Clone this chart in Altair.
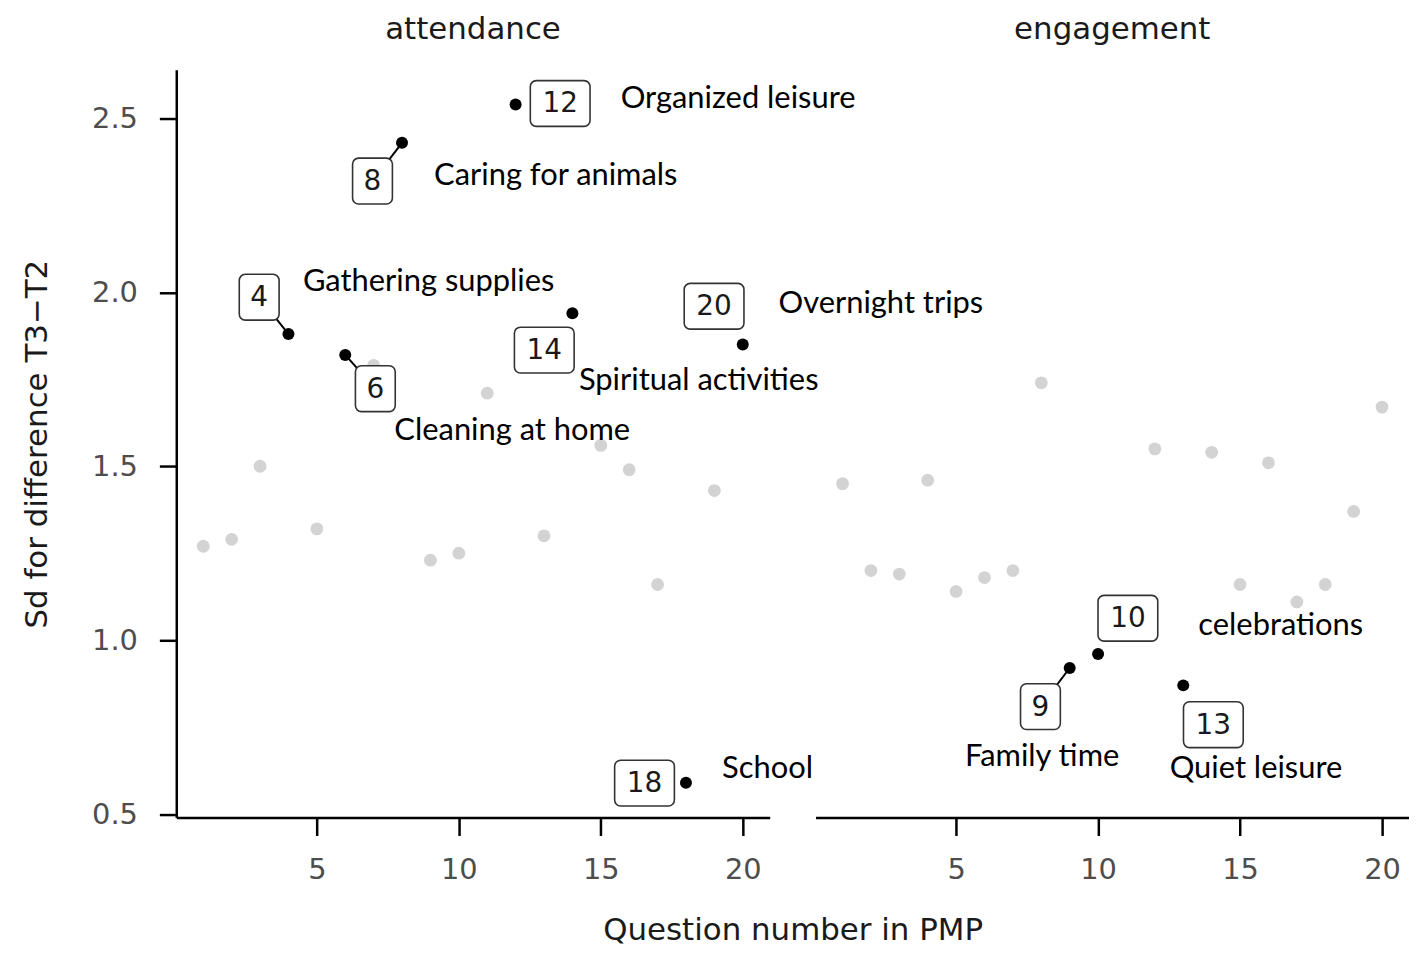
import altair as alt
import pandas as pd

# ---------------- data ----------------
question = list(range(1, 21))
attendance_sd = [1.27, 1.29, 1.50, 1.88, 1.32, 1.82, 1.79, 2.43, 1.23, 1.25,
                 1.71, 2.54, 1.30, 1.94, 1.56, 1.49, 1.16, 0.59, 1.43, 1.85]

engagement_q = [1, 2, 3, 4, 5, 6, 7, 8, 9, 10, 12, 13, 14, 15, 16, 17, 18, 19, 20]
engagement_sd = [1.45, 1.20, 1.19, 1.46, 1.14, 1.18, 1.20, 1.74, 0.92, 0.96,
                 1.55, 0.87, 1.54, 1.16, 1.51, 1.11, 1.16, 1.37, 1.67]

att_hl_q = [4, 6, 8, 12, 14, 18, 20]
att_hl_name = ["Gathering supplies", "Cleaning at home", "Caring for animals",
               "Organized leisure", "Spiritual activities", "School", "Overnight trips"]
att_box_x = [2.97, 7.06, 6.96, 13.57, 13.01, 16.54, 18.99]
att_box_y = [1.986, 1.723, 2.32, 2.543, 1.834, 0.589, 1.96]
att_lab_x = [4.51, 7.73, 9.13, 15.70, 14.23, 19.27, 21.26]
att_lab_y = [2.031, 1.600, 2.334, 2.557, 1.746, 0.629, 1.966]
att_seg = [True, True, True, False, False, False, False]

eng_hl_q = [9, 10, 13]
eng_hl_name = ["Family time", "celebrations", "Quiet leisure"]
eng_box_x = [7.97, 11.05, 14.06]
eng_box_y = [0.809, 1.063, 0.757]
eng_lab_x = [5.31, 13.53, 12.52]
eng_lab_y = [0.663, 1.040, 0.629]
eng_seg = [True, False, False]

x_ticks = [5, 10, 15, 20]
y_ticks = [0.5, 1.0, 1.5, 2.0, 2.5]

# ---------------- styling ----------------
PW, PH, GAP = 596, 751, 46
AX_FONT = "DejaVu Sans"
LAB_FONT = "Lato"
GREY = "#d3d3d3"

xscale = alt.Scale(domain=[0.05, 20.95], nice=False, zero=False)
yscale = alt.Scale(domain=[0.49, 2.64], nice=False, zero=False)

common_axis = dict(grid=False, domainColor="black", domainWidth=2.5,
                   tickColor="black", tickWidth=2.5,
                   labelFont=AX_FONT, labelFontSize=29, labelColor="#4d4d4d",
                   titleFont=AX_FONT, titleFontSize=31, titleFontWeight="normal",
                   titleColor="#1a1a1a")


def x_axis(left):
    if left:
        return alt.Axis(values=x_ticks, tickSize=18, labelPadding=20,
                        title="Question number in PMP", titlePadding=31,
                        titleX=(2 * PW + GAP) / 2, titleAnchor="middle",
                        **common_axis)
    return alt.Axis(values=x_ticks, tickSize=18, labelPadding=20, title=None,
                    **common_axis)


def y_axis(left):
    if left:
        return alt.Axis(values=y_ticks, format=".1f", tickSize=17, labelPadding=22,
                        title="Sd for difference T3\u2212T2", titlePadding=38,
                        **common_axis)
    return None


def panel(name, q, sd, hl_q, hl_name, bx, by, lx, ly, seg, left):
    lookup = dict(zip(q, sd))
    pts = pd.DataFrame({"q": q, "sd": sd})
    pts["hl"] = pts["q"].isin(hl_q)
    hl = pd.DataFrame({
        "q": hl_q,
        "sd": [lookup[v] for v in hl_q],
        "name": hl_name,
        "bx": bx, "by": by, "lx": lx, "ly": ly, "seg": seg,
        "num": [str(v) for v in hl_q],
    })
    hl["digits"] = hl["num"].str.len()

    xa = x_axis(left)
    ya = y_axis(left)

    def X(f):
        return alt.X(f + ":Q", scale=xscale, axis=xa)

    def Y(f):
        if ya is None:
            return alt.Y(f + ":Q", scale=yscale, axis=None)
        return alt.Y(f + ":Q", scale=yscale, axis=ya)

    grey = alt.Chart(pts[~pts["hl"]]).mark_circle(size=165, color=GREY, opacity=1).encode(
        x=X("q"), y=Y("sd"))
    segs = alt.Chart(hl[hl["seg"]]).mark_rule(color="black", strokeWidth=2).encode(
        x=X("q"), y=Y("sd"), x2="bx:Q", y2="by:Q")
    black = alt.Chart(hl).mark_circle(size=145, color="black", opacity=1).encode(
        x=X("q"), y=Y("sd"))
    box_style = dict(fill="white", stroke="#333333", strokeWidth=1.6, cornerRadius=6,
                     yOffset=-23, y2Offset=23)
    box2 = alt.Chart(hl[hl["digits"] == 2]).mark_rect(
        xOffset=-30, x2Offset=30, **box_style).encode(
        x=X("bx"), x2="bx:Q", y=Y("by"), y2="by:Q")
    box1 = alt.Chart(hl[hl["digits"] == 1]).mark_rect(
        xOffset=-20, x2Offset=20, **box_style).encode(
        x=X("bx"), x2="bx:Q", y=Y("by"), y2="by:Q")
    nums = alt.Chart(hl).mark_text(font=AX_FONT, fontSize=28, color="#1a1a1a",
                                   align="center", baseline="middle", dy=1).encode(
        x=X("bx"), y=Y("by"), text="num:N")
    labels = alt.Chart(hl).mark_text(font=LAB_FONT, fontSize=31, color="black",
                                     align="left", baseline="middle").encode(
        x=X("lx"), y=Y("ly"), text="name:N")

    layers = [grey, segs, black]
    if (hl["digits"] == 2).any():
        layers.append(box2)
    if (hl["digits"] == 1).any():
        layers.append(box1)
    layers += [nums, labels]

    return alt.layer(*layers).properties(
        width=PW, height=PH,
        title=alt.TitleParams(name, font=AX_FONT, fontSize=31, fontWeight="normal",
                              color="#1a1a1a", anchor="middle", offset=0,
                              baseline="alphabetic"),
    )


left = panel("attendance", question, attendance_sd, att_hl_q, att_hl_name,
             att_box_x, att_box_y, att_lab_x, att_lab_y, att_seg, True)
right = panel("engagement", engagement_q, engagement_sd, eng_hl_q, eng_hl_name,
              eng_box_x, eng_box_y, eng_lab_x, eng_lab_y, eng_seg, False)

chart = alt.hconcat(left, right, spacing=GAP, bounds="flush",
                    padding={"left": 13, "top": 4, "right": 0, "bottom": 0}
                    ).configure(background="white").configure_view(stroke=None)

chart.save("out.html", embed_options={"renderer": "svg", "actions": False})
